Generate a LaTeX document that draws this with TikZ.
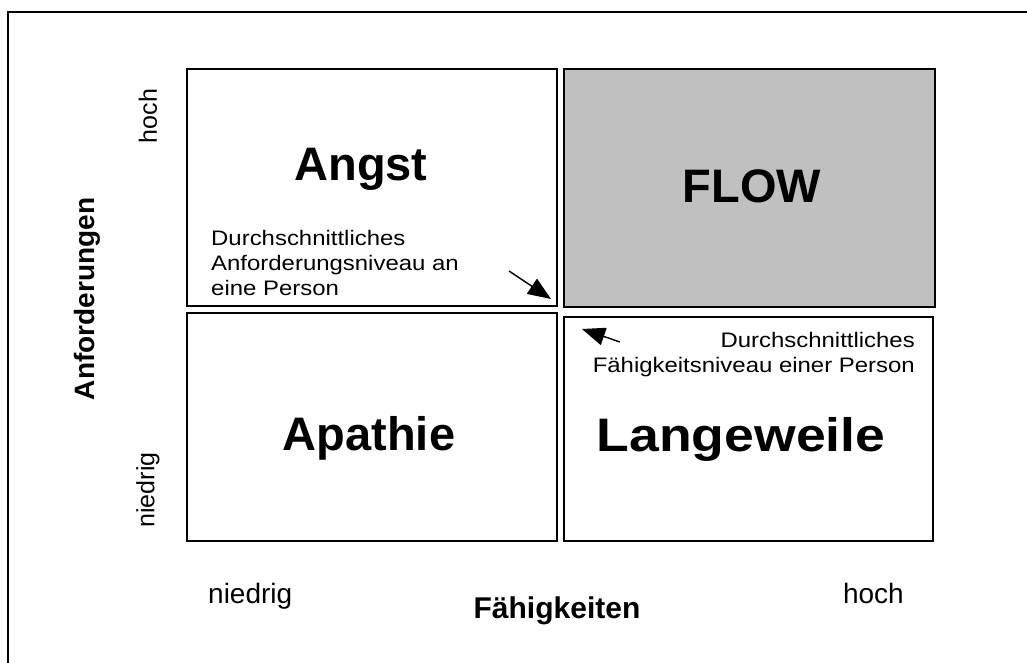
\documentclass[tikz,border=0pt]{standalone}
\usepackage{fontspec}
\setmainfont{Liberation Sans}
\newfontfamily\widefont[FakeStretch=1.14]{Liberation Sans}
\usetikzlibrary{arrows.meta}
\definecolor{flowgray}{HTML}{C0C0C0}
\newcommand{\fs}[2]{\fontsize{#1}{#2}\selectfont}
\begin{document}
\begin{tikzpicture}[x=1pt,y=-1pt,
  cell/.style={draw=black,line width=1.7pt,inner sep=0pt},
  big/.style={font=\fs{47}{56}\bfseries,inner sep=0pt,anchor=base},
  note/.style={font=\widefont\fs{21}{25},inner sep=0pt},
  scale lbl/.style={font=\fs{25}{30},inner sep=0pt},
  axis lbl/.style={font=\fs{28}{34}\bfseries,inner sep=0pt},
  pointer/.style={line width=1.4pt,-{Triangle[length=23pt,width=18pt]}}]
  \useasboundingbox (0,0) rectangle (1027,663);
  % outer frame (open to the right and bottom)
  \draw[line width=1.7pt] (8,663) -- (8,12) -- (1027,12);

  % the four quadrants
  \draw[cell] (187,69) rectangle (557,306);
  \draw[cell,fill=flowgray] (564,69) rectangle (935,307);
  \draw[cell] (187,313) rectangle (557,541);
  \draw[cell] (564,317) rectangle (933,541);

  % quadrant titles
  \node[big] (angst) at (361,180) {Angst};
  \node[big] (flow) at (752,202) {FLOW};
  \node[big] (apathie) at (369,450) {Apathie};
  \node[big,font=\widefont\fs{47}{56}\bfseries] (langeweile) at (741,451) {Langeweile};

  % notes (the base anchor sits on the last line)
  \node[note,anchor=base west,align=left] (noteA) at (211,295)
    {Durchschnittliches\\Anforderungsniveau an\\eine Person};
  \node[note,anchor=base east,align=right] (noteF) at (915,372)
    {Durchschnittliches\\Fähigkeitsniveau einer Person};

  % pointers
  \coordinate (pA0) at (509,271);
  \coordinate (pA1) at (551,299);
  \coordinate (pF0) at (620,342);
  \coordinate (pF1) at (582,329);
  \draw[pointer] (pA0) -- (pA1);
  \draw[pointer] (pF0) -- (pF1);

  % vertical axis
  \node[scale lbl,rotate=90] (yhigh) at (148,116) {hoch};
  \node[scale lbl,rotate=90] (ylow) at (148,490) {niedrig};
  \node[axis lbl,rotate=90] (ylabel) at (87,299) {Anforderungen};

  % horizontal axis
  \node[font=\fs{28}{34},inner sep=0pt,anchor=base west] (xlow) at (208,603) {niedrig};
  \node[font=\fs{28}{34},inner sep=0pt,anchor=base east] (xhigh) at (904,603) {hoch};
  \node[axis lbl,font=\fs{30}{36}\bfseries,anchor=base] (xlabel) at (557,618) {Fähigkeiten};
\end{tikzpicture}
\end{document}
